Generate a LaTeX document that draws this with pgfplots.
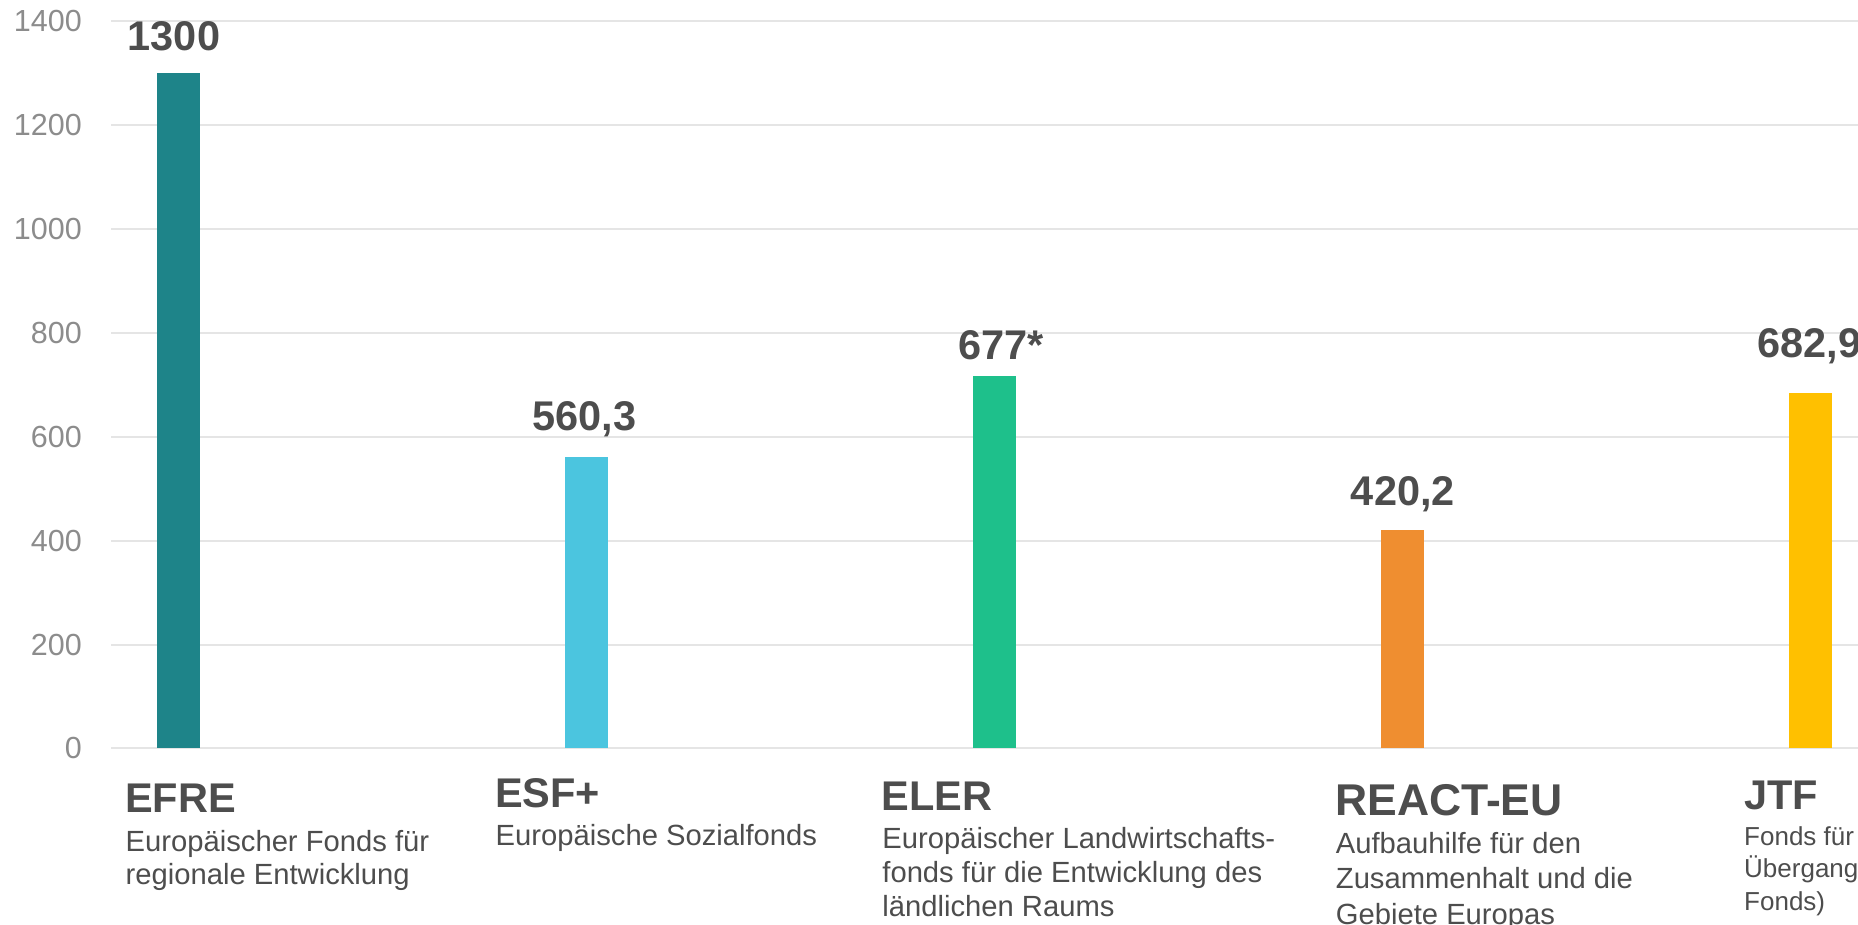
\documentclass[border=0pt]{standalone}
\usepackage{fontspec}
\setmainfont{Liberation Sans}
\usepackage{pgfplots}
\pgfplotsset{compat=1.18}

\definecolor{efre}{HTML}{1E8489}
\definecolor{esf}{HTML}{4BC5DF}
\definecolor{eler}{HTML}{1EC08B}
\definecolor{react}{HTML}{EF8E30}
\definecolor{jtf}{HTML}{FFC000}
\definecolor{txt}{HTML}{4D4D4D}
\definecolor{tickc}{HTML}{8C8C8C}
\definecolor{gridc}{HTML}{E5E5E5}

\newcommand\valfont{\fontsize{41.5}{48}\selectfont\bfseries}
\newcommand\catfont{\fontsize{41.5}{48}\selectfont\bfseries}
\newcommand\subfont{\fontsize{29.2}{34}\selectfont}

\begin{document}
\begin{tikzpicture}[x=1pt,y=1pt]
\path[use as bounding box] (0,0) rectangle (1858,924);
\clip (0,0) rectangle (1858,924);
\begin{axis}[
    at={(111pt,175.5pt)}, anchor=south west,
    scale only axis, width=1747pt, height=727.8pt,
    xmin=-0.1654, xmax=4.1164,
    ymin=0, ymax=1400,
    ytick={0,200,...,1400}, xtick=\empty,
    ymajorgrids=true,
    grid style={draw=gridc, line width=2pt},
    axis line style={draw=none},
    major tick length=0pt,
    yticklabel style={font=\fontsize{30.5}{36}\selectfont, text=tickc,
        anchor=east, inner sep=0pt, xshift=-29pt},
    /pgf/number format/1000 sep={},
    /pgf/number format/assume math mode=true,
    clip=false,
]
% bars
\addplot[ybar, bar width=43pt, bar shift=0pt, fill=efre, draw=none] coordinates {(0,1300)};
\addplot[ybar, bar width=43pt, bar shift=0pt, fill=esf, draw=none] coordinates {(1,560.3)};
\addplot[ybar, bar width=43pt, bar shift=0pt, fill=eler, draw=none] coordinates {(2,716)};
\addplot[ybar, bar width=43pt, bar shift=0pt, fill=react, draw=none] coordinates {(3,420.2)};
\addplot[ybar, bar width=43pt, bar shift=0pt, fill=jtf, draw=none] coordinates {(4,682.9)};
% value labels
\node[anchor=base, inner sep=0pt, text=txt, font=\valfont] at (axis cs:-0.011,1343.6) {1300};
\node[anchor=base, inner sep=0pt, text=txt, font=\valfont] at (axis cs:0.9956,611.3) {560,3};
\node[anchor=base, inner sep=0pt, text=txt, font=\valfont] at (axis cs:2.017,749.2) {677*};
\node[anchor=base, inner sep=0pt, text=txt, font=\valfont] at (axis cs:3.001,467.1) {420,2};
\node[anchor=base west, inner sep=0pt, text=txt, font=\valfont] at (axis cs:3.870,751.2) {682,9};
\end{axis}
\begin{scope}[every node/.style={inner sep=0pt, text=txt, anchor=base west}]
% EFRE
\node[font=\catfont] at (125,111.3) {EFRE};
\node[font=\subfont] at (125.5,73) {Europäischer Fonds für};
\node[font=\subfont] at (125.5,39.7) {regionale Entwicklung};
% ESF+
\node[font=\catfont] at (495,116.7) {ESF+};
\node[font=\subfont] at (495.5,78) {Europäische Sozialfonds};
% ELER
\node[font=\catfont] at (881.5,113.3) {ELER};
\node[font=\subfont] at (882.2,75.7) {Europäischer Landwirtschafts-};
\node[font=\subfont] at (882.2,41.3) {fonds für die Entwicklung des};
\node[font=\subfont] at (882.2,7.3) {ländlichen Raums};
% REACT-EU
\node[font=\fontsize{44.5}{50}\selectfont\bfseries] at (1335,108) {REACT-EU};
\node[font=\subfont] at (1335.7,70.7) {Aufbauhilfe für den};
\node[font=\subfont] at (1335.7,35.3) {Zusammenhalt und die};
\node[font=\subfont] at (1335.7,-0.5) {Gebiete Europas};
% JTF (cut at the right edge, as in the source)
\node[font=\catfont] at (1744,114) {JTF};
\node[font=\fontsize{26}{32}\selectfont] at (1744,78) {Fonds für einen gerechten};
\node[font=\fontsize{26}{32}\selectfont] at (1744,46.3) {Übergang (Just Transition};
\node[font=\fontsize{26}{32}\selectfont] at (1744,14) {Fonds)};
\end{scope}
\end{tikzpicture}
\end{document}
